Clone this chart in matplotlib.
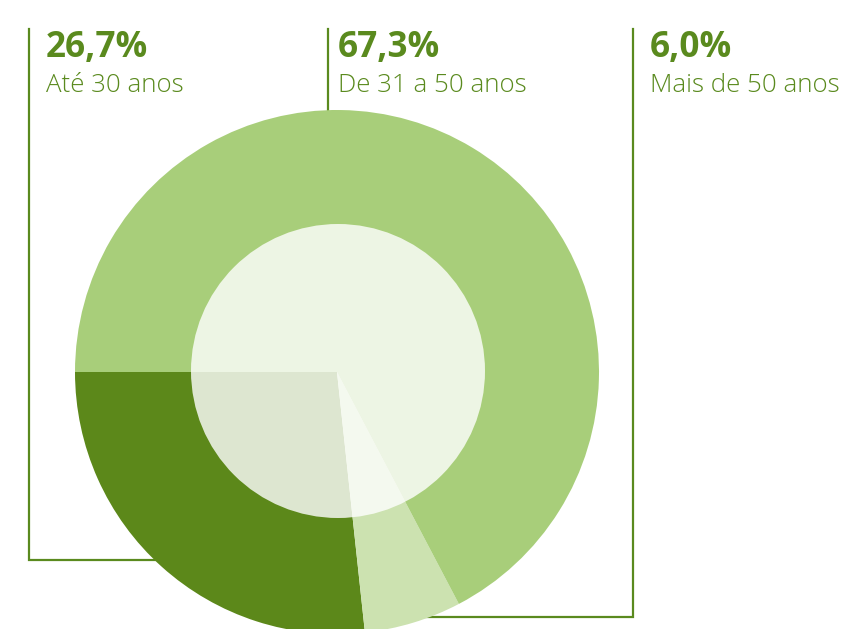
import matplotlib
matplotlib.use('Agg')
import matplotlib.pyplot as plt
from matplotlib.patches import Circle

# faixas etárias, na ordem em que aparecem no gráfico (anti-horário a partir da esquerda)
labels = ['Até 30 anos', 'Mais de 50 anos', 'De 31 a 50 anos']
values = [26.7, 6.0, 67.3]
colors = ['#5c881a', '#cce2b0', '#a8ce7a']

# textos de cima, da esquerda para a direita
top_labels = ['Até 30 anos', 'De 31 a 50 anos', 'Mais de 50 anos']
top_values = ['26,7%', '67,3%', '6,0%']

green = '#5a8a1e'
W, H = 841, 629

fig = plt.figure(figsize=(W / 100, H / 100), dpi=100)
ax = fig.add_axes([0, 0, 1, 1])

cx, cy, r = 337, H - 372, 262
ax.pie(values, colors=colors, startangle=180, counterclock=True,
       center=(cx, cy), radius=r, wedgeprops=dict(linewidth=0), frame=True)
ax.add_patch(Circle((cx + 1, cy + 1), 147, facecolor='white', alpha=0.8,
                    edgecolor='none', zorder=5))

# linhas de chamada
ax.plot([29, 29, 200], [H - 29, H - 560, H - 560], color=green, lw=1.6,
        zorder=0, solid_joinstyle='miter')
ax.plot([328, 328], [H - 29, H - 150], color=green, lw=1.6, zorder=0)
ax.plot([633, 633, 400], [H - 29, H - 617, H - 617], color=green, lw=1.6,
        zorder=0, solid_joinstyle='miter')

for x, val, lab in zip([46, 338, 650], top_values, top_labels):
    ax.text(x, H - 57, val, fontsize=25.3, fontweight='bold', color=green,
            family='Open Sans', va='baseline', ha='left')
    ax.text(x, H - 92, lab, fontsize=18.6, fontweight='light', color=green,
            family='Open Sans', va='baseline', ha='left')

ax.set_xlim(0, W)
ax.set_ylim(0, H)
ax.set_aspect('auto')
ax.axis('off')

plt.savefig('out.png', dpi=100)
